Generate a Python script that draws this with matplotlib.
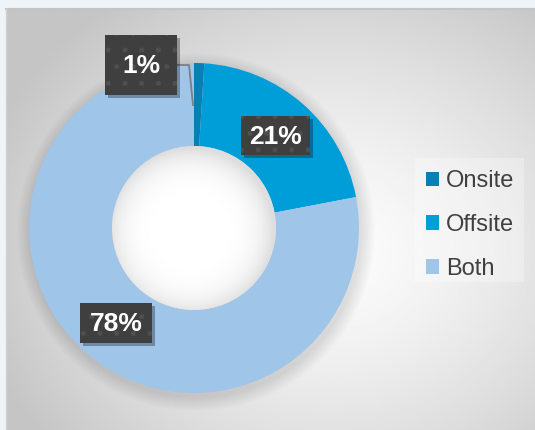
import numpy as np
import matplotlib
matplotlib.use("Agg")
import matplotlib.pyplot as plt
from matplotlib.patches import Circle, Rectangle

plt.rcParams['font.family'] = ['Liberation Sans', 'DejaVu Sans']
plt.rcParams['hatch.linewidth'] = 1.2

labels = ['Onsite', 'Offsite', 'Both']
shares = [1, 21, 78]
colors = ['#0a7fb5', '#009ed8', '#9fc5e8']

W, H = 535, 430
fig = plt.figure(figsize=(W / 100, H / 100), dpi=100)
fig.patch.set_facecolor('#eef4f8')
ax = fig.add_axes([0, 0, 1, 1])

# chart area with radial gradient
x0, x1, y0, y1 = 6, W, 0, 421
gx, gy = np.meshgrid(np.linspace(x0, x1, 300), np.linspace(y1, y0, 240))
r = np.hypot((gx - 330) / 330, (gy - 180) / 280)
grad = np.clip(0.99 - 0.19 * r ** 1.4, 0.77, 1)
ax.imshow(grad, extent=(x0, x1, y0, y1), cmap='gray', vmin=0, vmax=1,
          aspect='auto', zorder=0)
ax.plot([x0, x1], [y1, y1], color='#c4c4c4', lw=1.5, zorder=1)
ax.plot([x0, x0], [y0, y1], color='#d2d2d2', lw=1, zorder=1)

cx, cy, R, ring = 194, 202, 165, 83

# soft shadow round the donut
for k in range(14):
    ax.add_patch(Circle((cx + 2, cy - 4), R + 14 - k, color='black',
                        alpha=0.006, lw=0, zorder=1))

wedges, _ = ax.pie(shares, colors=colors, startangle=90, counterclock=False,
                   center=(cx, cy), radius=R, frame=True,
                   wedgeprops=dict(width=ring, lw=0))
for w in wedges:
    w.set_zorder(2)
ax.set_xlim(0, W)
ax.set_ylim(0, H)
ax.set_aspect('auto')
ax.axis('off')

# hole shading
hole = Circle((cx, cy), R - ring, transform=ax.transData)
hx, hy = np.meshgrid(np.linspace(-1, 1, 200), np.linspace(1, -1, 200))
hr = np.hypot(hx + 0.04, hy + 0.04)
himg = np.clip(1.0 - 0.12 * hr ** 5, 0.87, 1)
im = ax.imshow(himg, extent=(cx - R + ring, cx + R - ring, cy - R + ring, cy + R - ring),
               cmap='gray', vmin=0, vmax=1, zorder=3)
im.set_clip_path(hole)

# leader line for the small slice
ax.plot([177, 189, 193], [365, 365, 325], color='#7f7f7f', lw=1.3, zorder=4)

# data label boxes (centre x, centre y, width, height)
boxes = [(141, 365, 72, 60), (275.5, 294.5, 69, 39), (116, 107, 72, 40)]
for v, (bx, by, bw, bh) in zip(shares, boxes):
    ax.add_patch(Rectangle((bx - bw / 2 + 3, by - bh / 2 - 3), bw, bh,
                           fc='black', alpha=0.3, lw=0, zorder=5))
    ax.add_patch(Rectangle((bx - bw / 2, by - bh / 2), bw, bh, fc='#3f3f3f',
                           ec='#4f4f4f', lw=0, hatch='.', zorder=5))
    ax.text(bx, by - 1, f'{v}%', ha='center', va='center', color='white',
            fontsize=19, fontweight='bold', zorder=6)

# legend panel
ax.add_patch(Rectangle((415, 148), 109, 124, fc='white', alpha=0.3, lw=0, zorder=4))
leg = ax.legend(wedges, labels, loc='upper left', bbox_to_anchor=(426 / W, 260 / H),
                frameon=False, fontsize=17, labelcolor='#404040',
                handlelength=0.55, handleheight=0.55, handletextpad=0.3,
                labelspacing=0.93, borderaxespad=0, borderpad=0)
leg.set_zorder(5)

fig.savefig('out.png', dpi=100, facecolor=fig.get_facecolor())
